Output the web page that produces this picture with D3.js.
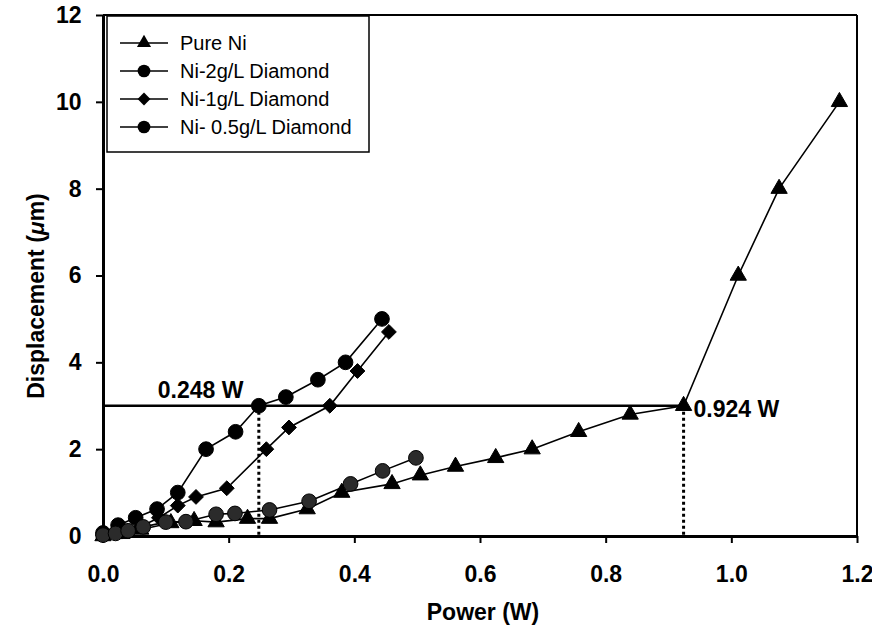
<!DOCTYPE html>
<html>
<head>
<meta charset="UTF-8">
<title>Displacement vs Power</title>
<script src="https://cdnjs.cloudflare.com/ajax/libs/d3/7.8.5/d3.min.js"></script>
<style>
	body { margin: 0; background: #fff; }
	text { font-family: "Liberation Sans", Arial, sans-serif; fill: #000; }
</style>
</head>
<body>
<svg id="chart" width="872" height="637"></svg>
<script>
// data
var seriesNames = ["Pure Ni", "Ni-2g/L Diamond", "Ni-1g/L Diamond", "Ni- 0.5g/L Diamond"];

var pureNiX = [0, 0.03, 0.06, 0.108, 0.145, 0.18, 0.23, 0.265, 0.325, 0.38, 0.46, 0.505, 0.561, 0.625, 0.683, 0.757, 0.839, 0.924, 1.011, 1.076, 1.172];
var pureNiY = [0, 0.05, 0.15, 0.3, 0.35, 0.32, 0.4, 0.4, 0.62, 1.0, 1.2, 1.4, 1.6, 1.8, 2.0, 2.4, 2.8, 3.0, 6.0, 8.0, 10.0];

var ni2X = [0, 0.024, 0.052, 0.086, 0.119, 0.164, 0.211, 0.248, 0.291, 0.342, 0.386, 0.444];
var ni2Y = [0.07, 0.25, 0.42, 0.62, 1.0, 2.0, 2.4, 3.0, 3.2, 3.6, 4.0, 5.0];

var ni1X = [0, 0.03, 0.06, 0.089, 0.119, 0.148, 0.197, 0.26, 0.296, 0.361, 0.405, 0.455];
var ni1Y = [0.02, 0.1, 0.22, 0.42, 0.7, 0.9, 1.1, 2.0, 2.5, 3.0, 3.8, 4.7];

var ni05X = [0, 0.02, 0.04, 0.064, 0.1, 0.132, 0.18, 0.21, 0.265, 0.328, 0.394, 0.445, 0.498];
var ni05Y = [0.02, 0.06, 0.12, 0.21, 0.32, 0.33, 0.5, 0.52, 0.6, 0.8, 1.2, 1.5, 1.8];

var xTicks = [0, 0.2, 0.4, 0.6, 0.8, 1.0, 1.2];
var yTicks = [0, 2, 4, 6, 8, 10, 12];

var thresholdY = 3;
var thresholdX = [0.248, 0.924];
var thresholdLabels = ["0.248 W", "0.924 W"];

function drawChart()
{
	var svg = d3.select("#chart");
	var plotLeft = 103, plotRight = 857, plotTop = 15, plotBottom = 536;
	var bigFont = 23;

	var x = d3.scaleLinear().domain([0, 1.2]).range([plotLeft, plotRight]);
	var y = d3.scaleLinear().domain([0, 12]).range([plotBottom, plotTop]);

	function zip(xs, ys) { return xs.map(function(v, i) { return [v, ys[i]]; }); }
	var series = [
		{ name: seriesNames[0], pts: zip(pureNiX, pureNiY), sym: d3.symbolTriangle, size: 115, fill: "#000" },
		{ name: seriesNames[1], pts: zip(ni2X, ni2Y), sym: d3.symbolCircle, size: 170, fill: "#000" },
		{ name: seriesNames[2], pts: zip(ni1X, ni1Y), sym: d3.symbolDiamond2, size: 140, fill: "#000" },
		{ name: seriesNames[3], pts: zip(ni05X, ni05Y), sym: d3.symbolCircle, size: 170, fill: "#2b2b2b" }
	];

	// frame top / right
	svg.append("line").attr("x1", plotLeft).attr("x2", plotRight).attr("y1", plotTop).attr("y2", plotTop)
		.attr("stroke", "#000").attr("stroke-width", 2);
	svg.append("line").attr("x1", plotRight).attr("x2", plotRight).attr("y1", plotTop).attr("y2", plotBottom)
		.attr("stroke", "#000").attr("stroke-width", 2);

	// axes
	var xAxis = svg.append("g").attr("transform", "translate(0," + plotBottom + ")")
		.call(d3.axisBottom(x).tickValues(xTicks).tickFormat(d3.format(".1f")).tickSize(7).tickSizeOuter(0));
	var yAxis = svg.append("g").attr("transform", "translate(" + plotLeft + ",0)")
		.call(d3.axisLeft(y).tickValues(yTicks).tickFormat(d3.format("d")).tickSize(7).tickSizeOuter(0));
	[xAxis, yAxis].forEach(function(a) {
		a.select(".domain").attr("stroke", "#000").attr("stroke-width", 3);
		a.selectAll(".tick line").attr("stroke", "#000").attr("stroke-width", 2);
		a.selectAll(".tick text").attr("font-size", bigFont).attr("font-weight", "bold")
			.attr("font-family", "Liberation Sans, Arial, sans-serif").attr("fill", "#000");
	});
	xAxis.selectAll(".tick text").attr("dy", "1.55em");
	yAxis.selectAll(".tick text").attr("dx", "-0.5em");

	// axis titles
	svg.append("text").attr("x", 483).attr("y", 620).attr("text-anchor", "middle")
		.attr("font-size", bigFont).attr("font-weight", "bold").text("Power (W)");
	var yt = svg.append("text").attr("transform", "translate(44,296) rotate(-90)")
		.attr("text-anchor", "middle").attr("font-size", bigFont).attr("font-weight", "bold");
	yt.append("tspan").text("Displacement (");
	yt.append("tspan").attr("font-style", "italic").text("\u03bc");
	yt.append("tspan").text("m)");

	// threshold lines
	svg.append("line").attr("x1", x(0)).attr("x2", x(thresholdX[1])).attr("y1", y(thresholdY)).attr("y2", y(thresholdY))
		.attr("stroke", "#000").attr("stroke-width", 2.5);
	thresholdX.forEach(function(v) {
		svg.append("line").attr("x1", x(v)).attr("x2", x(v)).attr("y1", y(thresholdY)).attr("y2", y(0))
			.attr("stroke", "#000").attr("stroke-width", 3).attr("stroke-dasharray", "3,3");
	});
	svg.append("text").attr("x", x(thresholdX[0]) - 101).attr("y", y(thresholdY) - 8)
		.attr("font-size", bigFont).attr("font-weight", "bold").text(thresholdLabels[0]);
	svg.append("text").attr("x", x(thresholdX[1]) + 10).attr("y", y(thresholdY) + 11)
		.attr("font-size", bigFont).attr("font-weight", "bold").text(thresholdLabels[1]);

	// series
	var line = d3.line().x(function(d) { return x(d[0]); }).y(function(d) { return y(d[1]); });
	series.forEach(function(s) {
		svg.append("path").datum(s.pts).attr("d", line)
			.attr("fill", "none").attr("stroke", "#000").attr("stroke-width", 1.6);
		svg.selectAll(null).data(s.pts).enter().append("path")
			.attr("d", d3.symbol().type(s.sym).size(s.size))
			.attr("transform", function(d) { return "translate(" + x(d[0]) + "," + y(d[1]) + ")"; })
			.attr("fill", s.fill).attr("stroke", "#000").attr("stroke-width", 1);
	});

	// legend
	var lg = svg.append("g");
	lg.append("rect").attr("x", 107).attr("y", 16).attr("width", 262).attr("height", 136)
		.attr("fill", "#fff").attr("stroke", "#000").attr("stroke-width", 1.5);
	series.forEach(function(s, i) {
		var ly = 43 + i * 28;
		lg.append("line").attr("x1", 120).attr("x2", 168).attr("y1", ly).attr("y2", ly)
			.attr("stroke", "#000").attr("stroke-width", 1.6);
		lg.append("path").attr("d", d3.symbol().type(s.sym).size(s.size * 0.75))
			.attr("transform", "translate(144," + ly + ")").attr("fill", "#000");
		lg.append("text").attr("x", 180).attr("y", ly + 7).attr("font-size", 20).text(s.name);
	});
}

drawChart();
</script>
</body>
</html>
